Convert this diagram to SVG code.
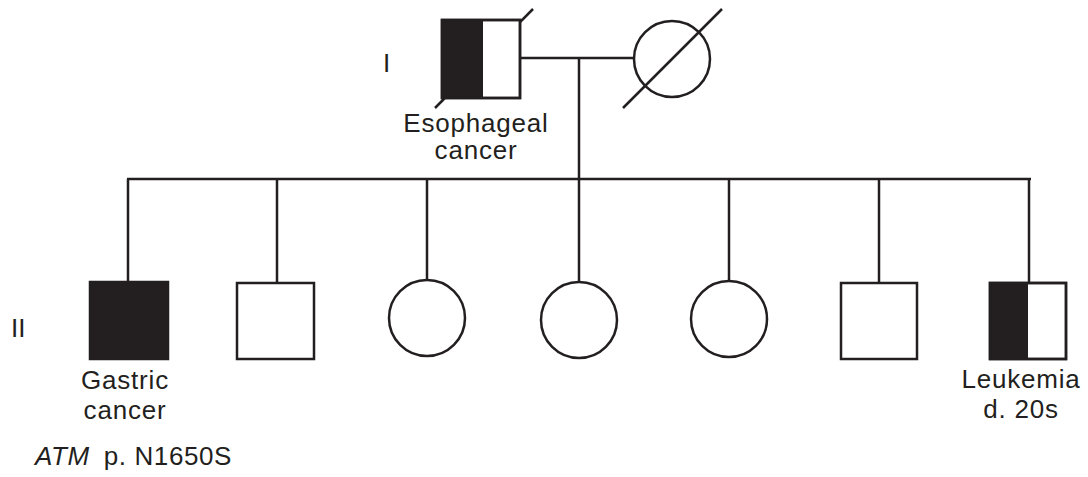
<svg xmlns="http://www.w3.org/2000/svg" width="1088" height="477" viewBox="0 0 1088 477">
  <style>
    .ln { stroke: #231f20; stroke-width: 2.5; fill: none; }
    .sym { stroke: #231f20; stroke-width: 2.5; fill: #ffffff; }
    .aff { fill: #231f20; stroke: none; }
    .lbl { font-family: "Liberation Sans", Arial, sans-serif; font-size: 26px; letter-spacing: 0.8px; fill: #231f20; text-anchor: middle; }
    .gen { font-family: "Liberation Sans", Arial, sans-serif; font-size: 26px; fill: #231f20; }
  </style>

  <!-- generation labels -->
  <text class="gen" x="383" y="72">I</text>
  <text class="gen" x="11" y="337">II</text>

  <!-- lines of descent -->
  <g id="connectors">
    <line class="ln" x1="520" y1="58" x2="634" y2="58"/>
    <line class="ln" x1="579" y1="58" x2="579" y2="179"/>
    <line class="ln" x1="127" y1="179" x2="1031" y2="179"/>
    <line class="ln" x1="128" y1="179" x2="128" y2="282"/>
    <line class="ln" x1="277" y1="179" x2="277" y2="282"/>
    <line class="ln" x1="427" y1="179" x2="427" y2="280"/>
    <line class="ln" x1="579" y1="179" x2="579" y2="282"/>
    <line class="ln" x1="729" y1="179" x2="729" y2="281"/>
    <line class="ln" x1="879" y1="179" x2="879" y2="282"/>
    <line class="ln" x1="1029" y1="179" x2="1029" y2="283"/>
  </g>

  <!-- I-1: father, affected, deceased (slash drawn beneath the square) -->
  <g id="I-1">
    <line class="ln" x1="435" y1="108" x2="533" y2="9"/>
    <rect class="sym" x="442" y="20" width="78" height="78"/>
    <rect class="aff" x="442" y="20" width="41" height="78"/>
    <rect class="ln" x="442" y="20" width="78" height="78"/>
    <text class="lbl" x="476" y="132">Esophageal</text>
    <text class="lbl" x="476" y="159">cancer</text>
  </g>

  <!-- I-2: mother, deceased -->
  <g id="I-2">
    <circle class="sym" cx="672" cy="59" r="38"/>
    <line class="ln" x1="623" y1="108" x2="722" y2="9"/>
  </g>

  <!-- II-1: affected son -->
  <g id="II-1">
    <rect x="90" y="282" width="78" height="77" fill="#231f20" stroke="#231f20" stroke-width="2.5"/>
    <text class="lbl" x="125" y="389">Gastric</text>
    <text class="lbl" x="125" y="419">cancer</text>
  </g>

  <g id="II-2">
    <rect class="sym" x="237" y="283" width="77" height="76"/>
  </g>

  <g id="II-3">
    <circle class="sym" cx="427" cy="318" r="38"/>
  </g>

  <g id="II-4">
    <circle class="sym" cx="579" cy="320" r="38"/>
  </g>

  <g id="II-5">
    <circle class="sym" cx="729" cy="319" r="38"/>
  </g>

  <g id="II-6">
    <rect class="sym" x="841" y="283" width="76" height="76"/>
  </g>

  <!-- II-7: son, half affected -->
  <g id="II-7">
    <rect class="sym" x="990" y="283" width="76" height="76"/>
    <rect class="aff" x="990" y="283" width="38" height="76"/>
    <rect class="ln" x="990" y="283" width="76" height="76"/>
    <text class="lbl" x="1021" y="388">Leukemia</text>
    <text class="lbl" x="1021" y="418">d. 20s</text>
  </g>

  <!-- variant note -->
  <text class="gen" x="35" y="465" font-size="27" letter-spacing="0.6"><tspan font-style="italic">ATM</tspan><tspan dx="14">p. N1650S</tspan></text>
</svg>
